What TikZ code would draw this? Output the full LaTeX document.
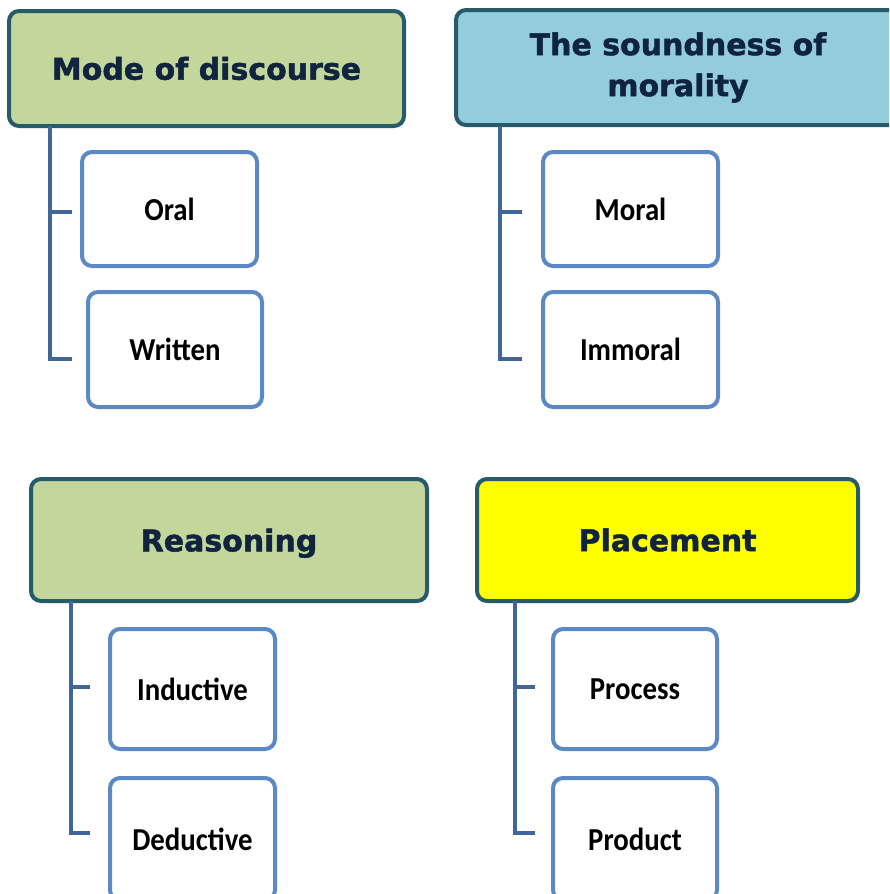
\documentclass[tikz,border=0pt]{standalone}
\usepackage{fontspec}
\setmainfont{Carlito}
\newfontfamily\headfont{DejaVu Sans}[BoldFeatures={FakeBold=1.5}]
\definecolor{headborder}{HTML}{275B6A}
\definecolor{headtext}{HTML}{10243F}
\definecolor{greenfill}{HTML}{C3D69B}
\definecolor{bluefill}{HTML}{93CDDD}
\definecolor{yellowfill}{HTML}{FFFF00}
\definecolor{childborder}{HTML}{5A89C6}
\definecolor{connline}{HTML}{41679A}
\newcommand{\childtext}[1]{\scalebox{0.9}[1]{#1}}
\tikzset{
  header/.style={draw=headborder, line width=4pt, rounded corners=10pt,
    align=center, text=headtext, inner sep=0pt,
    font=\headfont\bfseries\fontsize{30}{41}\selectfont},
  child/.style={draw=childborder, fill=white, line width=4pt, rounded corners=10pt,
    align=center, text=black, inner sep=0pt,
    font=\bfseries\fontsize{32}{36}\selectfont},
  conn/.style={draw=connline, line width=4pt}
}
\begin{document}
\begin{tikzpicture}[x=1pt,y=-1pt]
\useasboundingbox (0,0) rectangle (889,894);
\clip (0,0) rectangle (889,894);

% headers
\node[header, fill=greenfill, minimum width=395pt, minimum height=115pt] (h1) at (206.5,68.5) {Mode of discourse};
\node[header, fill=bluefill, minimum width=444pt, minimum height=115pt] (h2) at (678,67.5) {The soundness of\\morality};
\node[header, fill=greenfill, minimum width=396pt, minimum height=122pt, text depth=0pt] (h3) at (229,540) {Reasoning};
\node[header, fill=yellowfill, minimum width=381pt, minimum height=122pt] (h4) at (667.5,540) {Placement};

% sub-items
\node[child, minimum width=175pt, minimum height=114pt] (c1) at (169.5,209) {\childtext{Oral}};
\node[child, minimum width=174pt, minimum height=115pt] (c2) at (175,349.5) {\childtext{Written}};
\node[child, minimum width=175pt, minimum height=114pt] (c3) at (630.5,209) {\childtext{Moral}};
\node[child, minimum width=175pt, minimum height=115pt] (c4) at (630.5,349.5) {\childtext{Immoral}};
\node[child, minimum width=165pt, minimum height=120pt] (c5) at (192.5,689) {\childtext{Inductive}};
\node[child, minimum width=165pt, minimum height=122pt] (c6) at (192.5,839) {\childtext{Deductive}};
\node[child, minimum width=164pt, minimum height=120pt] (c7) at (635,689) {\childtext{Process}};
\node[child, minimum width=164pt, minimum height=122pt] (c8) at (635,839) {\childtext{Product}};

% tree connectors: a spine under each header with short ticks
\coordinate (s1) at (50,126);  \coordinate (t1) at (72,212);  \coordinate (t2) at (72,359);
\coordinate (s2) at (500,126); \coordinate (t3) at (522,212); \coordinate (t4) at (522,359);
\coordinate (s3) at (71,601);  \coordinate (t5) at (90,687);  \coordinate (t6) at (90,833);
\coordinate (s4) at (515,601); \coordinate (t7) at (535,687); \coordinate (t8) at (535,833);

\draw[conn] (s1) |- (t2);  \draw[conn] (s1 |- t1) -- (t1);
\draw[conn] (s2) |- (t4);  \draw[conn] (s2 |- t3) -- (t3);
\draw[conn] (s3) |- (t6);  \draw[conn] (s3 |- t5) -- (t5);
\draw[conn] (s4) |- (t8);  \draw[conn] (s4 |- t7) -- (t7);
\end{tikzpicture}
\end{document}
